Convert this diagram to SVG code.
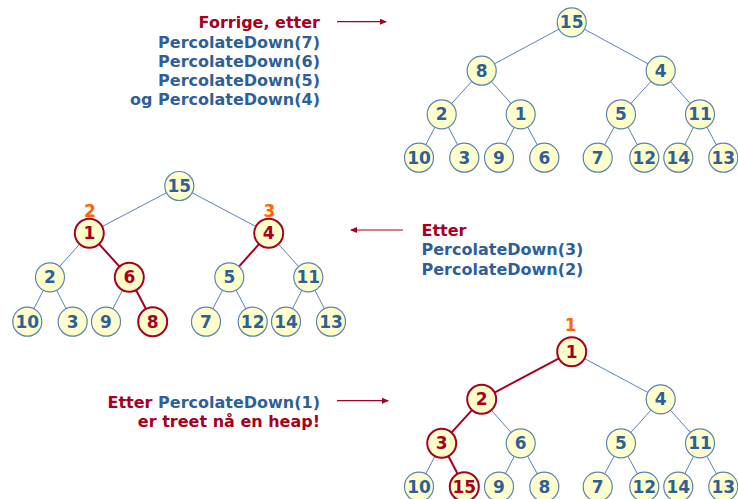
<svg xmlns="http://www.w3.org/2000/svg" width="738" height="499" viewBox="0 0 738 499">
<defs>
<style>
.n circle{fill:#ffffcc;stroke:#5a82b4;stroke-width:1.2}
.n text{fill:#2f5f99;font-family:"DejaVu Sans","Verdana",sans-serif;font-weight:bold;font-size:17px;text-anchor:middle}
.n.r circle{stroke:#a50021;stroke-width:2}
.n.r text{fill:#a50021}
.e line{stroke:#5a82b4;stroke-width:1}
.e line.r{stroke:#a50021;stroke-width:2}
.t{font-family:"DejaVu Sans","Verdana",sans-serif;font-weight:bold;font-size:16px}
.b{fill:#2f5f99}
.red{fill:#a50021}
.o{fill:#ff6600;font-family:"DejaVu Sans","Verdana",sans-serif;font-weight:bold;font-size:17px;text-anchor:middle}
.a{stroke:#a50021;stroke-width:1.2;fill:none}
</style>
<marker id="ah" markerWidth="8" markerHeight="8" refX="6" refY="3" orient="auto" markerUnits="userSpaceOnUse">
<path d="M0,0 L7,3 L0,6 z" fill="#a50021"/>
</marker>
</defs>
<rect width="738" height="499" fill="#ffffff"/>

<!-- texts -->
<g id="text-top" class="t">
<text x="320" y="28" text-anchor="end" class="red">Forrige, etter</text>
<text x="320" y="48" text-anchor="end" class="b">PercolateDown(7)</text>
<text x="320" y="67" text-anchor="end" class="b">PercolateDown(6)</text>
<text x="320" y="86" text-anchor="end" class="b">PercolateDown(5)</text>
<text x="320" y="105" text-anchor="end" class="b">og PercolateDown(4)</text>
</g>
<g id="text-mid" class="t">
<text x="421.5" y="236" class="red">Etter</text>
<text x="421.5" y="255" class="b">PercolateDown(3)</text>
<text x="421.5" y="274.5" class="b">PercolateDown(2)</text>
</g>
<g id="text-bot" class="t">
<text x="320" y="408" text-anchor="end"><tspan class="red">Etter </tspan><tspan class="b">PercolateDown(1)</tspan></text>
<text x="320" y="427" text-anchor="end" class="red">er treet nå en heap!</text>
</g>

<g id="arrows">
<line class="a" x1="337" y1="21.7" x2="386" y2="21.7" marker-end="url(#ah)"/>
<line class="a" x1="403" y1="230" x2="351" y2="230" marker-end="url(#ah)"/>
<line class="a" x1="337" y1="400.7" x2="388" y2="400.7" marker-end="url(#ah)"/>
</g>

<!-- connectors -->
<g id="connectors" class="e">
<!-- top tree -->
<line x1="571.7" y1="22.3" x2="481.7" y2="70.7"/>
<line x1="571.7" y1="22.3" x2="660.7" y2="70.7"/>
<line x1="481.7" y1="70.7" x2="441.7" y2="114.3"/>
<line x1="481.7" y1="70.7" x2="520.7" y2="114.3"/>
<line x1="660.7" y1="70.7" x2="621" y2="114.3"/>
<line x1="660.7" y1="70.7" x2="700" y2="114.3"/>
<line x1="441.7" y1="114.3" x2="419" y2="157.7"/>
<line x1="441.7" y1="114.3" x2="464.3" y2="157.7"/>
<line x1="520.7" y1="114.3" x2="499" y2="157.7"/>
<line x1="520.7" y1="114.3" x2="544.3" y2="157.7"/>
<line x1="621" y1="114.3" x2="597.7" y2="157.7"/>
<line x1="621" y1="114.3" x2="644.3" y2="157.7"/>
<line x1="700" y1="114.3" x2="678.3" y2="157.7"/>
<line x1="700" y1="114.3" x2="723.3" y2="157.7"/>
<!-- middle tree -->
<line x1="179.3" y1="186" x2="89.3" y2="233.3"/>
<line x1="179.3" y1="186" x2="268.7" y2="233.3"/>
<line x1="89.3" y1="233.3" x2="50" y2="277.3"/>
<line class="r" x1="89.3" y1="233.3" x2="129.3" y2="277.3"/>
<line class="r" x1="268.7" y1="233.3" x2="229.3" y2="277.3"/>
<line x1="268.7" y1="233.3" x2="308.3" y2="277.3"/>
<line x1="50" y1="277.3" x2="27.3" y2="321.7"/>
<line x1="50" y1="277.3" x2="72.7" y2="321.7"/>
<line x1="129.3" y1="277.3" x2="106" y2="321.7"/>
<line class="r" x1="129.3" y1="277.3" x2="152.7" y2="321.7"/>
<line x1="229.3" y1="277.3" x2="206" y2="321.7"/>
<line x1="229.3" y1="277.3" x2="252.7" y2="321.7"/>
<line x1="308.3" y1="277.3" x2="286" y2="321.7"/>
<line x1="308.3" y1="277.3" x2="331" y2="321.7"/>
<!-- bottom tree -->
<line class="r" x1="571.7" y1="351.7" x2="481.7" y2="399.3"/>
<line x1="571.7" y1="351.7" x2="660.7" y2="399.3"/>
<line class="r" x1="481.7" y1="399.3" x2="441.7" y2="443.3"/>
<line x1="481.7" y1="399.3" x2="520.7" y2="443.3"/>
<line x1="660.7" y1="399.3" x2="621" y2="443.3"/>
<line x1="660.7" y1="399.3" x2="700" y2="443.3"/>
<line x1="441.7" y1="443.3" x2="419" y2="486.7"/>
<line class="r" x1="441.7" y1="443.3" x2="464.3" y2="486.7"/>
<line x1="520.7" y1="443.3" x2="499" y2="486.7"/>
<line x1="520.7" y1="443.3" x2="544.3" y2="486.7"/>
<line x1="621" y1="443.3" x2="597.7" y2="486.7"/>
<line x1="621" y1="443.3" x2="644.3" y2="486.7"/>
<line x1="700" y1="443.3" x2="678.3" y2="486.7"/>
<line x1="700" y1="443.3" x2="723.3" y2="486.7"/>
</g>

<!-- top tree nodes -->
<g id="t15" class="n"><circle cx="571.7" cy="22.3" r="14.5"/><text x="571.7" y="28.3">15</text></g>
<g id="t8" class="n"><circle cx="481.7" cy="70.7" r="14.5"/><text x="481.7" y="76.7">8</text></g>
<g id="t4" class="n"><circle cx="660.7" cy="70.7" r="14.5"/><text x="660.7" y="76.7">4</text></g>
<g id="t2" class="n"><circle cx="441.7" cy="114.3" r="14.5"/><text x="441.7" y="120.3">2</text></g>
<g id="t1" class="n"><circle cx="520.7" cy="114.3" r="14.5"/><text x="520.7" y="120.3">1</text></g>
<g id="t5" class="n"><circle cx="621" cy="114.3" r="14.5"/><text x="621" y="120.3">5</text></g>
<g id="t11" class="n"><circle cx="700" cy="114.3" r="14.5"/><text x="700" y="120.3">11</text></g>
<g id="t10" class="n"><circle cx="419" cy="157.7" r="14.5"/><text x="419" y="163.7">10</text></g>
<g id="t3" class="n"><circle cx="464.3" cy="157.7" r="14.5"/><text x="464.3" y="163.7">3</text></g>
<g id="t9" class="n"><circle cx="499" cy="157.7" r="14.5"/><text x="499" y="163.7">9</text></g>
<g id="t6" class="n"><circle cx="544.3" cy="157.7" r="14.5"/><text x="544.3" y="163.7">6</text></g>
<g id="t7" class="n"><circle cx="597.7" cy="157.7" r="14.5"/><text x="597.7" y="163.7">7</text></g>
<g id="t12" class="n"><circle cx="644.3" cy="157.7" r="14.5"/><text x="644.3" y="163.7">12</text></g>
<g id="t14" class="n"><circle cx="678.3" cy="157.7" r="14.5"/><text x="678.3" y="163.7">14</text></g>
<g id="t13" class="n"><circle cx="723.3" cy="157.7" r="14.5"/><text x="723.3" y="163.7">13</text></g>

<!-- middle tree nodes -->
<g id="m15" class="n"><circle cx="179.3" cy="186" r="14.5"/><text x="179.3" y="192">15</text></g>
<g id="m1" class="n r"><circle cx="89.3" cy="233.3" r="14.5"/><text x="89.3" y="239.3">1</text></g>
<g id="m4" class="n r"><circle cx="268.7" cy="233.3" r="14.5"/><text x="268.7" y="239.3">4</text></g>
<g id="m2" class="n"><circle cx="50" cy="277.3" r="14.5"/><text x="50" y="283.3">2</text></g>
<g id="m6" class="n r"><circle cx="129.3" cy="277.3" r="14.5"/><text x="129.3" y="283.3">6</text></g>
<g id="m5" class="n"><circle cx="229.3" cy="277.3" r="14.5"/><text x="229.3" y="283.3">5</text></g>
<g id="m11" class="n"><circle cx="308.3" cy="277.3" r="14.5"/><text x="308.3" y="283.3">11</text></g>
<g id="m10" class="n"><circle cx="27.3" cy="321.7" r="14.5"/><text x="27.3" y="327.7">10</text></g>
<g id="m3" class="n"><circle cx="72.7" cy="321.7" r="14.5"/><text x="72.7" y="327.7">3</text></g>
<g id="m9" class="n"><circle cx="106" cy="321.7" r="14.5"/><text x="106" y="327.7">9</text></g>
<g id="m8" class="n r"><circle cx="152.7" cy="321.7" r="14.5"/><text x="152.7" y="327.7">8</text></g>
<g id="m7" class="n"><circle cx="206" cy="321.7" r="14.5"/><text x="206" y="327.7">7</text></g>
<g id="m12" class="n"><circle cx="252.7" cy="321.7" r="14.5"/><text x="252.7" y="327.7">12</text></g>
<g id="m14" class="n"><circle cx="286" cy="321.7" r="14.5"/><text x="286" y="327.7">14</text></g>
<g id="m13" class="n"><circle cx="331" cy="321.7" r="14.5"/><text x="331" y="327.7">13</text></g>
<g id="m-labels">
<text class="o" x="90" y="217">2</text>
<text class="o" x="269.3" y="217">3</text>
</g>

<!-- bottom tree nodes -->
<g id="b1" class="n r"><circle cx="571.7" cy="351.7" r="14.5"/><text x="571.7" y="357.7">1</text></g>
<g id="b2" class="n r"><circle cx="481.7" cy="399.3" r="14.5"/><text x="481.7" y="405.3">2</text></g>
<g id="b4" class="n"><circle cx="660.7" cy="399.3" r="14.5"/><text x="660.7" y="405.3">4</text></g>
<g id="b3" class="n r"><circle cx="441.7" cy="443.3" r="14.5"/><text x="441.7" y="449.3">3</text></g>
<g id="b6" class="n"><circle cx="520.7" cy="443.3" r="14.5"/><text x="520.7" y="449.3">6</text></g>
<g id="b5" class="n"><circle cx="621" cy="443.3" r="14.5"/><text x="621" y="449.3">5</text></g>
<g id="b11" class="n"><circle cx="700" cy="443.3" r="14.5"/><text x="700" y="449.3">11</text></g>
<g id="b10" class="n"><circle cx="419" cy="486.7" r="14.5"/><text x="419" y="492.7">10</text></g>
<g id="b15" class="n r"><circle cx="464.3" cy="486.7" r="14.5"/><text x="464.3" y="492.7">15</text></g>
<g id="b9" class="n"><circle cx="499" cy="486.7" r="14.5"/><text x="499" y="492.7">9</text></g>
<g id="b8" class="n"><circle cx="544.3" cy="486.7" r="14.5"/><text x="544.3" y="492.7">8</text></g>
<g id="b7" class="n"><circle cx="597.7" cy="486.7" r="14.5"/><text x="597.7" y="492.7">7</text></g>
<g id="b12" class="n"><circle cx="644.3" cy="486.7" r="14.5"/><text x="644.3" y="492.7">12</text></g>
<g id="b14" class="n"><circle cx="678.3" cy="486.7" r="14.5"/><text x="678.3" y="492.7">14</text></g>
<g id="b13" class="n"><circle cx="723.3" cy="486.7" r="14.5"/><text x="723.3" y="492.7">13</text></g>
<g id="b-labels">
<text class="o" x="570.7" y="331">1</text>
</g>
</svg>
